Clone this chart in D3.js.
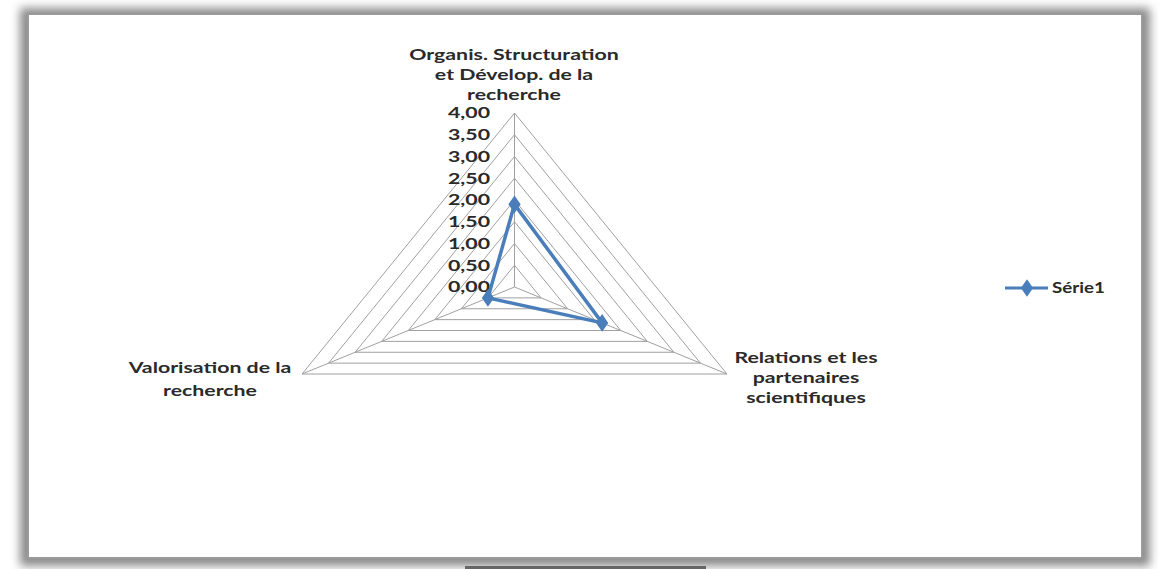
<!DOCTYPE html>
<html><head><meta charset="utf-8">
<script src="https://cdn.jsdelivr.net/npm/d3@7"></script>
<style>html,body{margin:0;padding:0;background:#fff;}svg{display:block;}</style>
</head><body>
<svg id="c" width="1159" height="569"></svg>
<script>
const categories = [
  ["Organis. Structuration", "et Dévelop. de la", "recherche"],
  ["Relations et les", "partenaires", "scientifiques"],
  ["Valorisation de la", "recherche"]
];
const seriesName = "Série1";
const values = [1.9, 1.65, 0.5];
const tickValues = [0, 0.5, 1, 1.5, 2, 2.5, 3, 3.5, 4];
const tickLabels = ["0,00","0,50","1,00","1,50","2,00","2,50","3,00","3,50","4,00"];

const svg = d3.select("#c");
const defs = svg.append("defs");
const f = defs.append("filter").attr("id","sh").attr("x","-5%").attr("y","-5%").attr("width","110%").attr("height","110%");
f.append("feGaussianBlur").attr("stdDeviation", 5);

// frame
svg.append("rect").attr("x",20).attr("y",8).attr("width",1130).attr("height",558)
  .attr("fill","#8a8a8a").attr("filter","url(#sh)");
svg.append("rect").attr("x",28).attr("y",14).attr("width",1114).attr("height",544)
  .attr("fill","#fff").attr("stroke","#9a9a9a").attr("stroke-width",2);
svg.append("rect").attr("x",465).attr("y",566).attr("width",241).attr("height",3).attr("fill","#666");

const cx = 514.5, cy = 287, R = 174, sx = 1.41;
const r = d3.scaleLinear().domain([0, 4]).range([0, R]);
const angle = d3.scaleOrdinal().domain([0,1,2]).range([-Math.PI/2, Math.PI/6, 5*Math.PI/6]);
const pt = (i, v) => [cx + sx * r(v) * Math.cos(angle(i)), cy + r(v) * Math.sin(angle(i))];
const line = d3.line().curve(d3.curveLinearClosed);

const g = svg.append("g");
// rings
g.selectAll(".ring").data(tickValues.slice(1)).join("path")
  .attr("d", t => line([0,1,2].map(i => pt(i, t))))
  .attr("fill","none").attr("stroke","#a0a0a0").attr("stroke-width",1);
// spokes
g.selectAll(".spoke").data([0,1,2]).join("line")
  .attr("x1", cx).attr("y1", cy)
  .attr("x2", i => pt(i,4)[0]).attr("y2", i => pt(i,4)[1])
  .attr("stroke","#a0a0a0").attr("stroke-width",1);

const font = "Lato, 'Open Sans', sans-serif";
const fs = 15, sc = 1.42;
// tick labels
g.selectAll(".tick").data(tickValues).join("text")
  .attr("transform", (t) => `translate(490,${cy - r(t)}) scale(${sc},1)`)
  .attr("text-anchor","end").attr("dy","0.35em")
  .attr("font-family", font).attr("font-size", fs).attr("font-weight", 700).attr("fill","#2a2a2a")
  .text((t,i) => tickLabels[i]);

// series
const pts = values.map((v,i) => pt(i,v));
g.append("path").attr("d", line(pts)).attr("fill","none")
  .attr("stroke","#4a7ebb").attr("stroke-width",3.5).attr("stroke-linejoin","round");
const diamond = d3.symbol().type(d3.symbolDiamond).size(90);
g.selectAll(".m").data(pts).join("path")
  .attr("d", diamond).attr("transform", d => `translate(${d[0]},${d[1]}) scale(1.2,1)`)
  .attr("fill","#4a7ebb");

// category labels
const labelPos = [[514, 60, 20], [806, 363, 20], [210, 373, 23]];
categories.forEach((lines, i) => {
  const t = svg.append("text")
    .attr("transform", `translate(${labelPos[i][0]},${labelPos[i][1]}) scale(${sc},1)`)
    .attr("text-anchor","middle").attr("font-family", font).attr("font-size", fs)
    .attr("font-weight", 700).attr("fill","#2a2a2a");
  lines.forEach((l, k) => t.append("tspan").attr("x",0).attr("y", k*labelPos[i][2]).text(l));
});

// legend
const ly = 288;
svg.append("line").attr("x1",1005).attr("x2",1048).attr("y1",ly).attr("y2",ly)
  .attr("stroke","#4a7ebb").attr("stroke-width",3);
svg.append("path").attr("d", diamond).attr("transform",`translate(1027,${ly}) scale(1.2,1)`).attr("fill","#4a7ebb");
svg.append("text").attr("transform",`translate(1052,${ly}) scale(1.25,1)`).attr("dy","0.35em")
  .attr("font-family", font).attr("font-size", fs).attr("font-weight", 700).attr("fill","#2a2a2a")
  .text(seriesName);
</script>
</body></html>
